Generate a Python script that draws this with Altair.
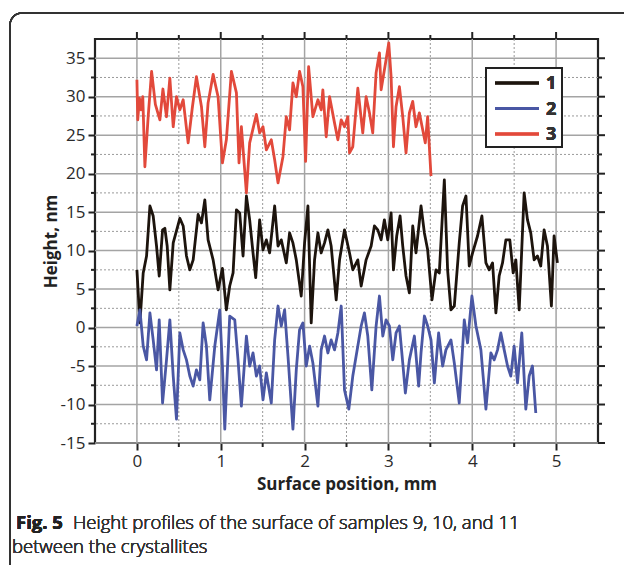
import altair as alt
import pandas as pd

# ---- data ----
series_names = ["1", "2", "3"]
series_colors = ["#1d140d", "#4a57a4", "#e2493b"]

x1 = [0.000, 0.036, 0.075, 0.115, 0.155, 0.194, 0.234, 0.266, 0.306, 0.333, 0.361, 0.393, 0.433, 0.512,
      0.552, 0.591, 0.631, 0.671, 0.730, 0.770, 0.810, 0.849, 0.909, 0.968, 1.020, 1.067, 1.107, 1.147,
      1.187, 1.226, 1.266, 1.306, 1.345, 1.385, 1.417, 1.464, 1.504, 1.544, 1.583, 1.643, 1.683, 1.722,
      1.782, 1.821, 1.861, 1.901, 1.960, 2.000, 2.040, 2.079, 2.119, 2.159, 2.198, 2.238, 2.278, 2.317,
      2.377, 2.417, 2.476, 2.536, 2.575,
      2.635, 2.675, 2.734, 2.794, 2.833, 2.873, 2.913, 2.952, 2.992, 3.032, 3.060, 3.099, 3.139, 3.171,
      3.210, 3.250, 3.290, 3.329, 3.389, 3.429, 3.468, 3.520, 3.567, 3.607, 3.667, 3.706, 3.746, 3.786,
      3.845, 3.885, 3.925, 3.964, 4.004, 4.063, 4.115, 4.163, 4.202, 4.242, 4.282, 4.321, 4.361, 4.401,
      4.448, 4.488, 4.520, 4.560, 4.619, 4.659, 4.698, 4.738, 4.778, 4.817, 4.857, 4.897, 4.944, 4.976,
      5.016]
y1 = [7.5, 0.6, 7.1, 9.3, 15.8, 14.5, 10.6, 6.7, 12.7, 12.9, 10.6, 4.9, 11.0, 14.2,
      13.2, 9.3, 7.5, 8.8, 14.7, 13.6, 16.6, 11.4, 8.8, 4.9, 7.7, 2.3, 5.4, 7.1,
      15.3, 14.9, 9.3, 17.1, 14.0, 9.7, 6.5, 14.0, 10.1, 11.4, 9.7, 15.8, 10.6, 11.4,
      8.4, 12.3, 11.0, 8.8, 4.1, 11.0, 15.8, 0.6, 8.8, 12.3, 9.7, 11.0, 12.7, 10.6,
      3.6, 8.8, 12.7, 9.7, 7.5,
      8.8, 5.4, 8.8, 10.6, 13.2, 12.7, 11.4, 14.0, 11.4, 14.9, 7.5, 11.9, 14.5, 10.6,
      6.7, 4.5, 13.2, 9.7, 15.8, 12.3, 10.1, 3.6, 7.5, 7.1, 19.2, 7.5, 2.3, 2.8,
      11.0, 15.8, 17.1, 8.0, 9.7, 11.9, 14.5, 8.4, 7.5, 8.4, 1.9, 6.7, 8.4, 11.4,
      11.4, 7.1, 8.8, 2.3, 17.5, 14.0, 12.3, 8.8, 9.3, 8.0, 12.7, 10.6, 2.8, 11.9,
      8.4]

x2 = [0.000, 0.036, 0.075, 0.115, 0.155, 0.194, 0.234, 0.266, 0.306, 0.353, 0.393, 0.433, 0.472, 0.512,
      0.552, 0.591, 0.631, 0.671, 0.710, 0.750, 0.790, 0.829, 0.869, 0.929, 0.988, 1.020, 1.048, 1.107,
      1.167, 1.206, 1.246, 1.306, 1.345, 1.385, 1.425, 1.464, 1.504, 1.544, 1.603, 1.643, 1.683, 1.722,
      1.762, 1.802, 1.861, 1.901, 1.940, 1.980, 2.020, 2.060, 2.099, 2.159, 2.198, 2.238, 2.278, 2.317,
      2.357, 2.397, 2.437, 2.476, 2.528, 2.575,
      2.635, 2.675, 2.714, 2.754, 2.802, 2.853, 2.893, 2.933, 2.972, 3.012, 3.052, 3.091, 3.131, 3.171,
      3.202, 3.250, 3.310, 3.361, 3.389, 3.429, 3.468, 3.508, 3.548, 3.599, 3.647, 3.686, 3.746, 3.786,
      3.845, 3.905, 3.944, 3.996, 4.044, 4.103, 4.163, 4.222, 4.262, 4.302, 4.341, 4.381, 4.421, 4.460,
      4.500, 4.540, 4.591, 4.639, 4.679, 4.718, 4.758]
y2 = [0.2, 2.3, -2.4, -4.2, 1.9, -1.6, -5.5, 1.0, -9.8, -4.2, 1.0, -6.3, -11.9, -0.7,
      -2.9, -4.2, -6.3, -7.6, -5.5, -6.8, 0.6, -2.4, -9.4, -2.4, 2.3, -5.0, -13.2, 1.5,
      1.0, -4.2, -10.2, -1.1, -5.0, -3.3, -6.3, -5.0, -9.4, -5.9, -9.8, -1.6, 2.8, 0.2,
      2.3, -3.7, -13.2, -5.5, -0.3, 0.6, -5.0, -2.4, -4.6, -10.2, -2.9, -1.1, -3.3, -1.6,
      -2.9, -0.7, 2.8, -8.1, -10.6, -6.3,
      -2.4, 0.2, 1.9, -1.1, -8.1, 0.2, 4.1, -1.1, 1.0, 0.2, -4.2, -0.7, 0.2, -4.6,
      -8.5, -4.2, -1.1, -7.6, -3.3, 1.5, 0.2, -1.6, -7.2, -0.7, -5.0, -2.9, -1.6, -4.6,
      -9.8, 1.0, -2.0, 4.1, 0.2, -2.9, -10.6, -3.3, -4.2, -2.9, -0.7, -2.9, -5.0, -6.3,
      -2.4, -7.2, -0.7, -10.6, -6.3, -5.0, -11.1]

x3 = [0.00, 0.01, 0.03, 0.05, 0.07, 0.095, 0.135, 0.175, 0.22, 0.274, 0.31, 0.353, 0.393, 0.433,
      0.472, 0.512, 0.552, 0.611, 0.66, 0.710, 0.770, 0.810, 0.849, 0.909, 0.968, 1.020, 1.067, 1.127,
      1.187, 1.218, 1.246, 1.306, 1.345, 1.425, 1.464, 1.504, 1.544, 1.603, 1.643, 1.683, 1.742, 1.782,
      1.821, 1.861, 1.901, 1.940, 1.980, 2.012, 2.048, 2.099, 2.159, 2.198, 2.218, 2.258, 2.298, 2.357,
      2.397, 2.437, 2.476, 2.516, 2.536, 2.575, 2.635, 2.694, 2.734, 2.774, 2.813, 2.853, 2.893, 2.913,
      2.972, 3.004, 3.032, 3.060, 3.091, 3.131, 3.171, 3.210, 3.250, 3.290, 3.329, 3.369, 3.409, 3.440,
      3.468, 3.508]
y3 = [32.2, 27.0, 29.8, 28.3, 30.0, 20.9, 27.5, 33.3, 29.0, 27.0, 31.0, 27.4, 32.4, 26.1,
      30.0, 28.3, 29.6, 24.0, 28.5, 32.6, 28.7, 23.5, 29.2, 32.9, 30.0, 21.4, 24.4, 33.3,
      30.5, 21.4, 26.1, 17.5, 24.0, 27.7, 25.3, 26.1, 23.1, 24.4, 21.8, 18.8, 22.2, 27.4,
      25.7, 31.8, 30.0, 33.3, 31.3, 21.6, 33.9, 27.4, 29.6, 28.3, 30.9, 24.8, 30.0, 26.6,
      24.4, 27.0, 26.1, 27.4, 22.7, 23.5, 31.1, 25.3, 30.0, 27.9, 25.3, 33.1, 35.7, 30.9,
      34.8, 37.0, 32.6, 23.5, 28.7, 31.3, 27.4, 22.7, 27.9, 29.4, 26.1, 27.9, 25.7, 24.0,
      27.4, 19.7]

x_major = [0, 1, 2, 3, 4, 5]
x_minor = [0.5, 1.5, 2.5, 3.5, 4.5]
y_major = [-15, -10, -5, 0, 5, 10, 15, 20, 25, 30, 35]
y_minor = [-12.5, -7.5, -2.5, 2.5, 7.5, 12.5, 17.5, 22.5, 27.5, 32.5]
x_domain = [-0.5, 5.5]
y_domain = [-15, 37.5]

x_title = "Surface position, mm"
y_title = "Height, nm"
caption_bold = "Fig. 5"
caption_1 = "Height profiles of the surface of samples 9, 10, and 11"
caption_2 = "between the crystallites"

# ---- build tables ----
rows = []
for name, xs_, ys_ in zip(series_names, [x1, x2, x3], [y1, y2, y3]):
    for i, (a, b) in enumerate(zip(xs_, ys_)):
        rows.append({"series": name, "x": a, "y": b, "order": i})
df = pd.DataFrame(rows)

W, H = 503, 404
FONT = "Open Sans"
INK = "#222222"

xs = alt.Scale(domain=x_domain, nice=False, zero=False)
ys = alt.Scale(domain=y_domain, nice=False, zero=False)

axis_common = dict(
    grid=False, domain=False, tickSize=7, tickWidth=2, tickColor=INK,
    labelFont=FONT, labelFontSize=17, labelFontWeight=500, labelColor="#2a2a2a",
    titleFont=FONT, titleFontSize=17, titleFontWeight="bold", titleColor=INK,
    labelExpr="'' + datum.value", labelPadding=3,
)
X_AXIS = alt.Axis(values=x_major, title=x_title, titlePadding=7, **axis_common)
Y_AXIS = alt.Axis(values=y_major, title=y_title, titlePadding=0, **axis_common)

xmaj = pd.DataFrame({"v": x_major})
xmin = pd.DataFrame({"v": x_minor})
ymaj = pd.DataFrame({"v": y_major})
ymin = pd.DataFrame({"v": y_minor})


def xr(d):
    return alt.Chart(d).encode(x=alt.X("v:Q", scale=xs, axis=X_AXIS))


def yr(d):
    return alt.Chart(d).encode(y=alt.Y("v:Q", scale=ys, axis=Y_AXIS))


grid = alt.layer(
    xr(xmin).mark_rule(color="#9a9a9a", strokeWidth=1, strokeDash=[2, 2]),
    yr(ymin).mark_rule(color="#9a9a9a", strokeWidth=1, strokeDash=[2, 2]),
    xr(xmaj).mark_rule(color="#a4a4a4", strokeWidth=1.5),
    yr(ymaj).mark_rule(color="#a4a4a4", strokeWidth=1.5),
)

tick_style = dict(color=INK, strokeWidth=2)
ticks = alt.layer(
    # bottom minor
    xr(xmin).mark_rule(**tick_style).encode(y=alt.value(H), y2=alt.value(H + 4)),
    # top major / minor
    xr(xmaj).mark_rule(**tick_style).encode(y=alt.value(0), y2=alt.value(-7)),
    xr(xmin).mark_rule(**tick_style).encode(y=alt.value(0), y2=alt.value(-4)),
    # left minor
    yr(ymin).mark_rule(**tick_style).encode(x=alt.value(-4), x2=alt.value(0)),
    # right major / minor
    yr(ymaj).mark_rule(**tick_style).encode(x=alt.value(W), x2=alt.value(W + 7)),
    yr(ymin).mark_rule(**tick_style).encode(x=alt.value(W), x2=alt.value(W + 4)),
)

lines = alt.Chart(df).mark_line(strokeWidth=2.8, strokeJoin="round").encode(
    x=alt.X("x:Q", scale=xs, axis=X_AXIS),
    y=alt.Y("y:Q", scale=ys, axis=Y_AXIS),
    color=alt.Color("series:N", scale=alt.Scale(domain=series_names, range=series_colors), legend=None),
    order="order:Q",
)

# ---- legend box (manual) ----
LX0, LX1, LY0, LY1 = 391, 467, 29, 108
legend_layers = [
    alt.Chart(xmaj).mark_rect(fill="white", stroke=INK, strokeWidth=2).encode(
        x=alt.value(LX0), x2=alt.value(LX1), y=alt.value(LY0), y2=alt.value(LY1))
]
for i, (name, col) in enumerate(zip(series_names, series_colors)):
    ry = 44 + i * 25.5
    legend_layers.append(
        alt.Chart(xmaj).mark_rule(color=col, strokeWidth=2.6).encode(
            x=alt.value(400), x2=alt.value(444), y=alt.value(ry), y2=alt.value(ry)))
    legend_layers.append(
        alt.Chart(xmaj).mark_text(text=name, font=FONT, fontSize=18, fontWeight="bold", color="#333333",
                                  align="left", baseline="middle").encode(
            x=alt.value(451), y=alt.value(ry + 1)))

# ---- caption and figure border ----
deco = alt.layer(
    alt.Chart(xmaj).mark_rect(filled=False, stroke="#333333", strokeWidth=1.6, cornerRadius=12).encode(
        x=alt.value(-85), x2=alt.value(W + 80), y=alt.value(-26), y2=alt.value(H + 160)),
    alt.Chart(xmaj).mark_text(text=caption_bold, font=FONT, fontSize=18.5, fontWeight="bold", color=INK,
                              align="left", baseline="middle").encode(x=alt.value(-79), y=alt.value(484)),
    alt.Chart(xmaj).mark_text(text=caption_1, font=FONT, fontSize=18.5, fontWeight=300, color="#333333",
                              align="left", baseline="middle").encode(x=alt.value(-22), y=alt.value(484)),
    alt.Chart(xmaj).mark_text(text=caption_2, font=FONT, fontSize=18.5, fontWeight=300, color="#333333",
                              align="left", baseline="middle").encode(x=alt.value(-83), y=alt.value(508)),
)

chart = alt.layer(grid, ticks, lines, *legend_layers, deco).properties(
    width=W, height=H,
    autosize=alt.AutoSizeParams(type="none"),
    padding={"left": 95, "top": 39, "right": 26, "bottom": 122},
    background="white",
).configure_view(stroke=INK, strokeWidth=2.2)

chart.save("out.html", embed_options={"renderer": "svg", "actions": False})
